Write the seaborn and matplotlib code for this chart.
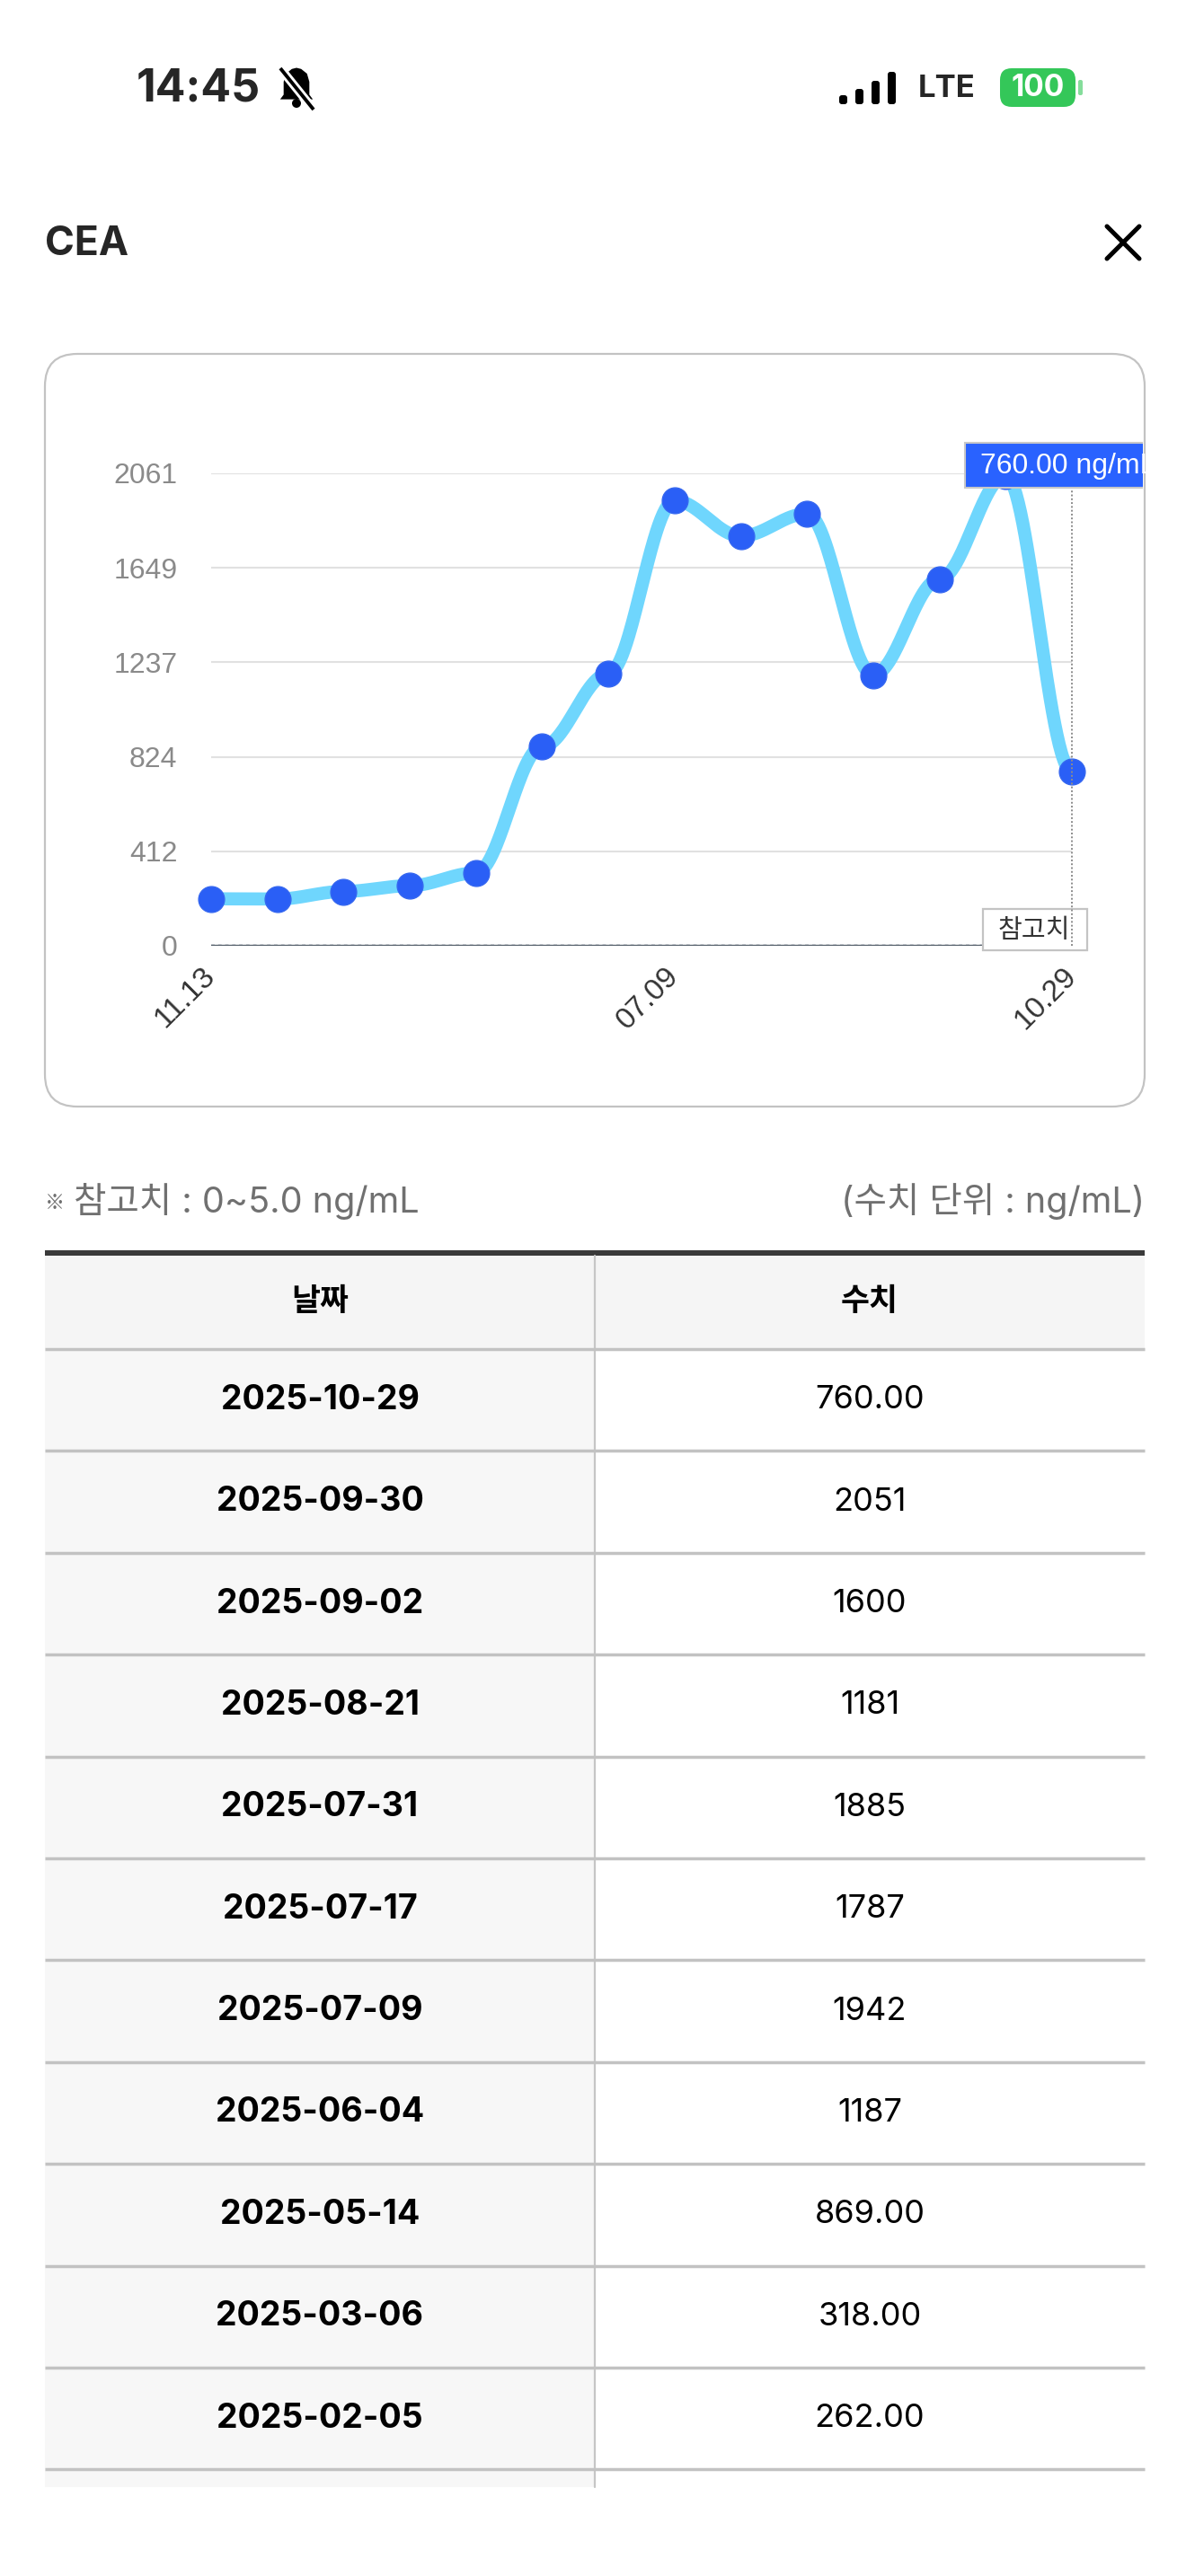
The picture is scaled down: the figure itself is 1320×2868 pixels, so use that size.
import numpy as np
import matplotlib
matplotlib.use("Agg")
import matplotlib.pyplot as plt
import seaborn as sns
from matplotlib.patches import FancyBboxPatch, Rectangle, Polygon, Circle

# ---- data ----
early_values = [205, 204, 237]          # first three points (not in the table)
table_dates = ["2025-10-29", "2025-09-30", "2025-09-02", "2025-08-21", "2025-07-31",
               "2025-07-17", "2025-07-09", "2025-06-04", "2025-05-14", "2025-03-06",
               "2025-02-05"]
table_values = ["760.00", "2051", "1600", "1181", "1885", "1787", "1942", "1187",
                "869.00", "318.00", "262.00"]
point_values = early_values + [float(v) for v in reversed(table_values)]
tick_positions = [0, 7, 13]
tick_labels = ["11.13", "07.09", "10.29"]
y_ticks = [0, 412, 824, 1237, 1649, 2061]
y_max = 2061
ref_range = (0, 5.0)

sns.set_theme(style="white")
plt.rcParams['font.family'] = ['Inter', 'Noto Sans CJK KR', 'DejaVu Sans']
KR = ['Noto Sans CJK KR', 'DejaVu Sans']
MIX = ['Inter', 'Noto Sans CJK KR', 'DejaVu Sans']
ARIAL = ['Liberation Sans', 'DejaVu Sans']

W, H = 1320, 2868
fig = plt.figure(figsize=(W / 100, H / 100), dpi=100)
fig.patch.set_facecolor("white")

# background axes in pixel coordinates
bg = fig.add_axes([0, 0, 1, 1])
bg.set_xlim(0, W)
bg.set_ylim(H, 0)
bg.axis("off")

# ---- status bar ----
bg.text(152, 99, "14:45", fontsize=36, weight="bold", va="center", ha="left")
bell = Polygon([(-11, 8), (-11, -3), (-9, -10), (-4, -14), (0, -15), (4, -14), (9, -10),
                (11, -3), (11, 8), (14, 12), (-14, 12)], closed=True, fc="black", ec="none")
bell.set_transform(matplotlib.transforms.Affine2D().scale(1.3).translate(330, 95) + bg.transData)
bg.add_patch(bell)
bg.add_patch(Circle((330, 115), 5, fc="black", ec="none"))
bg.plot([312, 349], [76, 122], color="white", lw=7, solid_capstyle="butt")
bg.plot([312, 349], [76, 122], color="black", lw=2.8, solid_capstyle="butt")

for k, h in enumerate([10, 17, 26, 36]):
    bg.add_patch(FancyBboxPatch((934 + k * 18, 116 - h), 9, h,
                                boxstyle="round,pad=0,rounding_size=3", fc="black", ec="none"))
bg.text(1022, 99, "LTE", fontsize=25, weight="bold", va="center", ha="left")
bg.add_patch(FancyBboxPatch((1113, 76), 84, 43, boxstyle="round,pad=0,rounding_size=13",
                            fc="#34c759", ec="none"))
bg.add_patch(FancyBboxPatch((1200, 89), 5, 17, boxstyle="round,pad=0,rounding_size=2",
                            fc="#34c759", ec="none", alpha=0.6))
bg.text(1155, 98, "100", fontsize=24, weight="bold", color="white", va="center", ha="center")

# ---- header ----
bg.text(50, 272, "CEA", fontsize=32, weight="bold", va="center", ha="left")
bg.plot([1232, 1268], [252, 288], color="black", lw=3.6)
bg.plot([1232, 1268], [288, 252], color="black", lw=3.6)

# ---- chart card ----
bg.add_patch(FancyBboxPatch((50, 394), 1224, 838, boxstyle="round,pad=0,rounding_size=36",
                            fc="white", ec="#c3c3c3", lw=1.6))

cx0, cx1 = 235, 1193
cy_top, cy_bot = 527, 1053
n = len(point_values)
ax = fig.add_axes([cx0 / W, 1 - cy_bot / H, (cx1 - cx0) / W, (cy_bot - cy_top) / H], zorder=2)
ax.patch.set_alpha(0)
ax.set_xlim(0, n - 1)
ax.set_ylim(0, y_max)

# smooth curve: each segment a cubic bezier with horizontal handles (35% of the step)
idx = np.arange(n)
vals = np.array(point_values, dtype=float)
t = np.linspace(0, 1, 60)
cx_list, cy_list = [], []
for i in range(n - 1):
    x0, x1 = idx[i], idx[i + 1]
    y0, y1 = vals[i], vals[i + 1]
    d = 0.35 * (x1 - x0)
    px = [x0, x0 + d, x1 - d, x1]
    py = [y0, y0, y1, y1]
    bx = ((1 - t) ** 3 * px[0] + 3 * (1 - t) ** 2 * t * px[1]
          + 3 * (1 - t) * t ** 2 * px[2] + t ** 3 * px[3])
    by = ((1 - t) ** 3 * py[0] + 3 * (1 - t) ** 2 * t * py[1]
          + 3 * (1 - t) * t ** 2 * py[2] + t ** 3 * py[3])
    cx_list.append(bx)
    cy_list.append(by)
curve_x = np.concatenate(cx_list)
curve_y = np.concatenate(cy_list)

ax.grid(axis="y", color="#e1e1e1", lw=1.5)
ax.grid(axis="x", visible=False)
for s in ax.spines.values():
    s.set_visible(False)
ax.axhline(ref_range[1], color="#cdd1d5", lw=1.4, ls=(0, (2, 2)), zorder=2.1)
ax.axhline(ref_range[0], color="#56616c", lw=2.4, zorder=2.2)

sns.lineplot(x=curve_x, y=curve_y, sort=False, estimator=None, color="#6fd6fd", lw=10.5,
             ax=ax, clip_on=False, zorder=3, solid_capstyle="round")
sns.scatterplot(x=idx, y=point_values, s=430, color="#2a5ff6", edgecolor="#3567f0",
                linewidth=1, ax=ax, clip_on=False, zorder=4)

ax.set_yticks(y_ticks, [str(v) for v in y_ticks])
ax.set_xticks(tick_positions, tick_labels)
for lab in ax.get_yticklabels():
    lab.set_family(ARIAL)
for lab in ax.get_xticklabels():
    lab.set_family(ARIAL)
    lab.set_rotation(45)
    lab.set_ha("right")
    lab.set_va("center")
    lab.set_rotation_mode("anchor")
ax.tick_params(axis="y", length=0, pad=27, labelsize=23, labelcolor="#8a8a8a")
ax.tick_params(axis="x", length=0, pad=21, labelsize=24, labelcolor="#333333")
ax.set_xlabel("")
ax.set_ylabel("")

# reference label box and dotted hover line
tip_top, tip_bot = 493, 543
sy = (cy_bot - cy_top) / y_max
ax.add_patch(Rectangle((1094, 1012), 116, 46, transform=bg.transData, fc="white",
                       ec="#c4c4c4", lw=1.6, zorder=5, clip_on=False))
ax.text(1151, 1036, "참고치", transform=bg.transData, family=KR, fontsize=21,
        color="#333333", ha="center", va="center", zorder=6, clip_on=False)
ax.vlines(n - 1, 0, (cy_bot - tip_bot) / sy, colors="#8c8c8c", lw=1.4,
          linestyles=(0, (1, 1.2)), zorder=7, clip_on=False)

# tooltip (clipped by the card edge)
clip = Rectangle((0, 0), 1272, H, transform=bg.transData)
tip = Rectangle((1074, tip_top), 260, tip_bot - tip_top, transform=bg.transData,
                fc="#2962ff", ec="#c8c8c8", lw=1.5, zorder=10, clip_on=True)
ax.add_patch(tip)
tip.set_clip_path(clip)
tt = ax.text(1091, (tip_top + tip_bot) / 2 + 1, f"{point_values[-1]:.2f} ng/mL",
             transform=bg.transData, family=ARIAL, fontsize=23, color="white",
             ha="left", va="center", zorder=11)
tt.set_clip_path(clip)

# ---- notes ----
bg.text(50, 1340, "※", family=KR, fontsize=16, color="#707070", va="center", ha="left")
bg.text(82, 1338, "참고치 : 0~5.0 ng/mL", family=MIX, fontsize=28.5, color="#707070",
        va="center", ha="left")
bg.text(1274, 1338, "(수치 단위 : ng/mL)", family=MIX, fontsize=28.5, color="#707070",
        va="center", ha="right")

# ---- table ----
tx0, tx1, tmid = 50, 1274, 662
head_top, head_bot = 1395, 1502
row_h = 113.4
nrows = len(table_dates)
bg.add_patch(Rectangle((tx0, head_top), tx1 - tx0, head_bot - head_top, fc="#f5f5f5", ec="none"))
bg.add_patch(Rectangle((tx0, head_bot), tmid - tx0, row_h * nrows + 20, fc="#f7f7f7", ec="none"))
bg.add_patch(Rectangle((tx0, head_top - 3), tx1 - tx0, 6, fc="#3a3a3a", ec="none"))
bg.plot([tmid, tmid], [head_top + 3, head_bot + row_h * nrows + 20], color="#c6c6c6", lw=1.6)
for k in range(nrows + 1):
    yy = head_bot + k * row_h
    bg.plot([tx0, tx1], [yy, yy], color="#c2c2c2", lw=2.5, solid_capstyle="butt")

bg.text((tx0 + tmid) / 2, (head_top + head_bot) / 2, "날짜", family=KR, fontsize=25,
        weight="bold", ha="center", va="center", color="black")
bg.text((tmid + tx1) / 2, (head_top + head_bot) / 2, "수치", family=KR, fontsize=25,
        weight="bold", ha="center", va="center", color="black")
for k, (d, v) in enumerate(zip(table_dates, table_values)):
    yy = head_bot + (k + 0.5) * row_h
    bg.text((tx0 + tmid) / 2, yy, d, fontsize=27, weight="bold", ha="center", va="center",
            color="black")
    bg.text((tmid + tx1) / 2, yy, v, fontsize=26, ha="center", va="center", color="black")

fig.savefig("out.png", dpi=100, facecolor="white")
